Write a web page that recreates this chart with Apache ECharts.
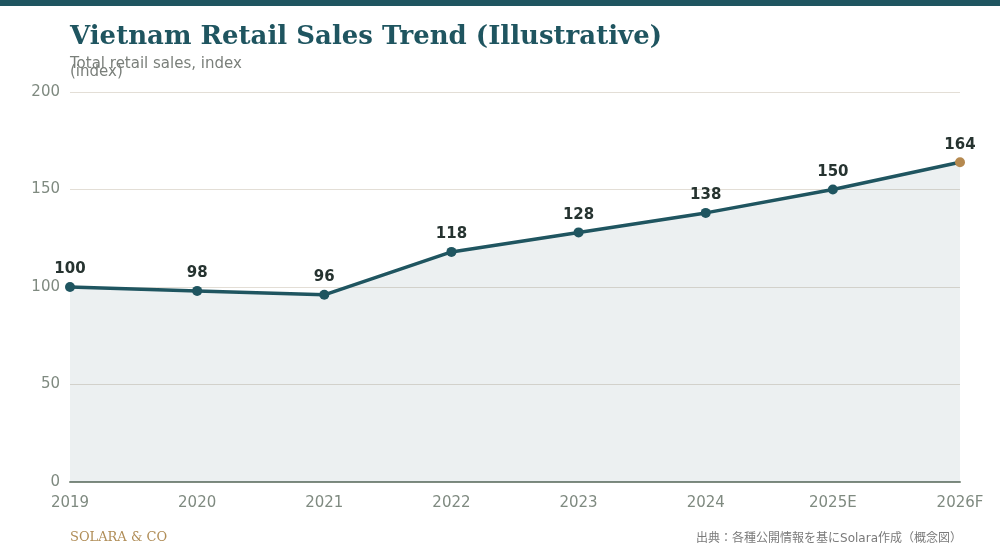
<!DOCTYPE html>
<html>
<head>
<meta charset="utf-8">
<script src="https://cdn.jsdelivr.net/npm/echarts@6/dist/echarts.min.js"></script>
<style>
  html, body { margin: 0; padding: 0; background: #fff; }
  #chart { width: 1000px; height: 560px; }
</style>
</head>
<body>
<div id="chart"></div>
<script>
var years = ['2019', '2020', '2021', '2022', '2023', '2024', '2025E', '2026F'];
var salesIndex = [100, 98, 96, 118, 128, 138, 150, 164];
var yTicks = [0, 50, 100, 150, 200];

var teal = '#1f5560';
var gold = '#b5894f';

var chartDom = document.getElementById('chart');
var myChart = echarts.init(chartDom);

var pointData = [];
for (let i = 0; i < salesIndex.length; i++) {
  var last = i === salesIndex.length - 1;
  pointData.push({
    value: salesIndex[i],
    itemStyle: { color: last ? gold : teal }
  });
}

const option = {
  animation: false,
  graphic: [
    { type: 'rect', left: 0, top: 0, shape: { width: 1000, height: 6 }, style: { fill: teal } },
    { type: 'text', left: 70, top: 531, style: { text: 'SOLARA & CO', fill: '#b08d57', font: '13px "DejaVu Serif"' } },
    { type: 'text', right: 38, top: 533, style: { text: '出典：各種公開情報を基にSolara作成（概念図）', fill: '#7a7a7a', font: '12px "DejaVu Sans", "Noto Sans CJK JP"' } }
  ],
  title: {
    text: 'Vietnam Retail Sales Trend (Illustrative)',
    subtext: 'Total retail sales, index',
    left: 65,
    top: 19,
    itemGap: 7,
    textStyle: { fontFamily: 'DejaVu Serif', fontWeight: 'bold', fontSize: 26, color: teal },
    subtextStyle: { fontFamily: 'DejaVu Sans', fontSize: 15, color: '#7a7f7a' }
  },
  grid: { left: 70, right: 40, top: 92, bottom: 78 },
  xAxis: {
    type: 'category',
    data: years,
    boundaryGap: false,
    axisTick: { show: false },
    axisLine: { lineStyle: { color: '#7f8c80', width: 2 } },
    axisLabel: { color: '#7f8a80', fontSize: 15, fontFamily: 'DejaVu Sans', margin: 14 }
  },
  yAxis: {
    type: 'value',
    min: yTicks[0],
    max: yTicks[yTicks.length - 1],
    interval: 50,
    name: '(index)',
    nameLocation: 'end',
    nameGap: 12,
    nameTextStyle: { color: '#7a7f7a', fontSize: 15, fontFamily: 'DejaVu Sans', align: 'left' },
    axisLine: { show: false },
    axisTick: { show: false },
    axisLabel: { color: '#7f8a80', fontSize: 15, fontFamily: 'DejaVu Sans', margin: 10 },
    splitLine: { lineStyle: { color: '#e3ded6', width: 1 } }
  },
  series: [
    {
      type: 'line',
      data: pointData,
      symbol: 'circle',
      symbolSize: 10,
      lineStyle: { color: teal, width: 3.5 },
      itemStyle: { color: teal },
      areaStyle: { color: 'rgba(31,85,96,0.085)', opacity: 1 },
      label: {
        show: true,
        position: 'top',
        distance: 5,
        fontSize: 15,
        fontWeight: 'bold',
        fontFamily: 'DejaVu Sans',
        color: '#263330'
      }
    }
  ]
};

myChart.setOption(option);
</script>
</body>
</html>
